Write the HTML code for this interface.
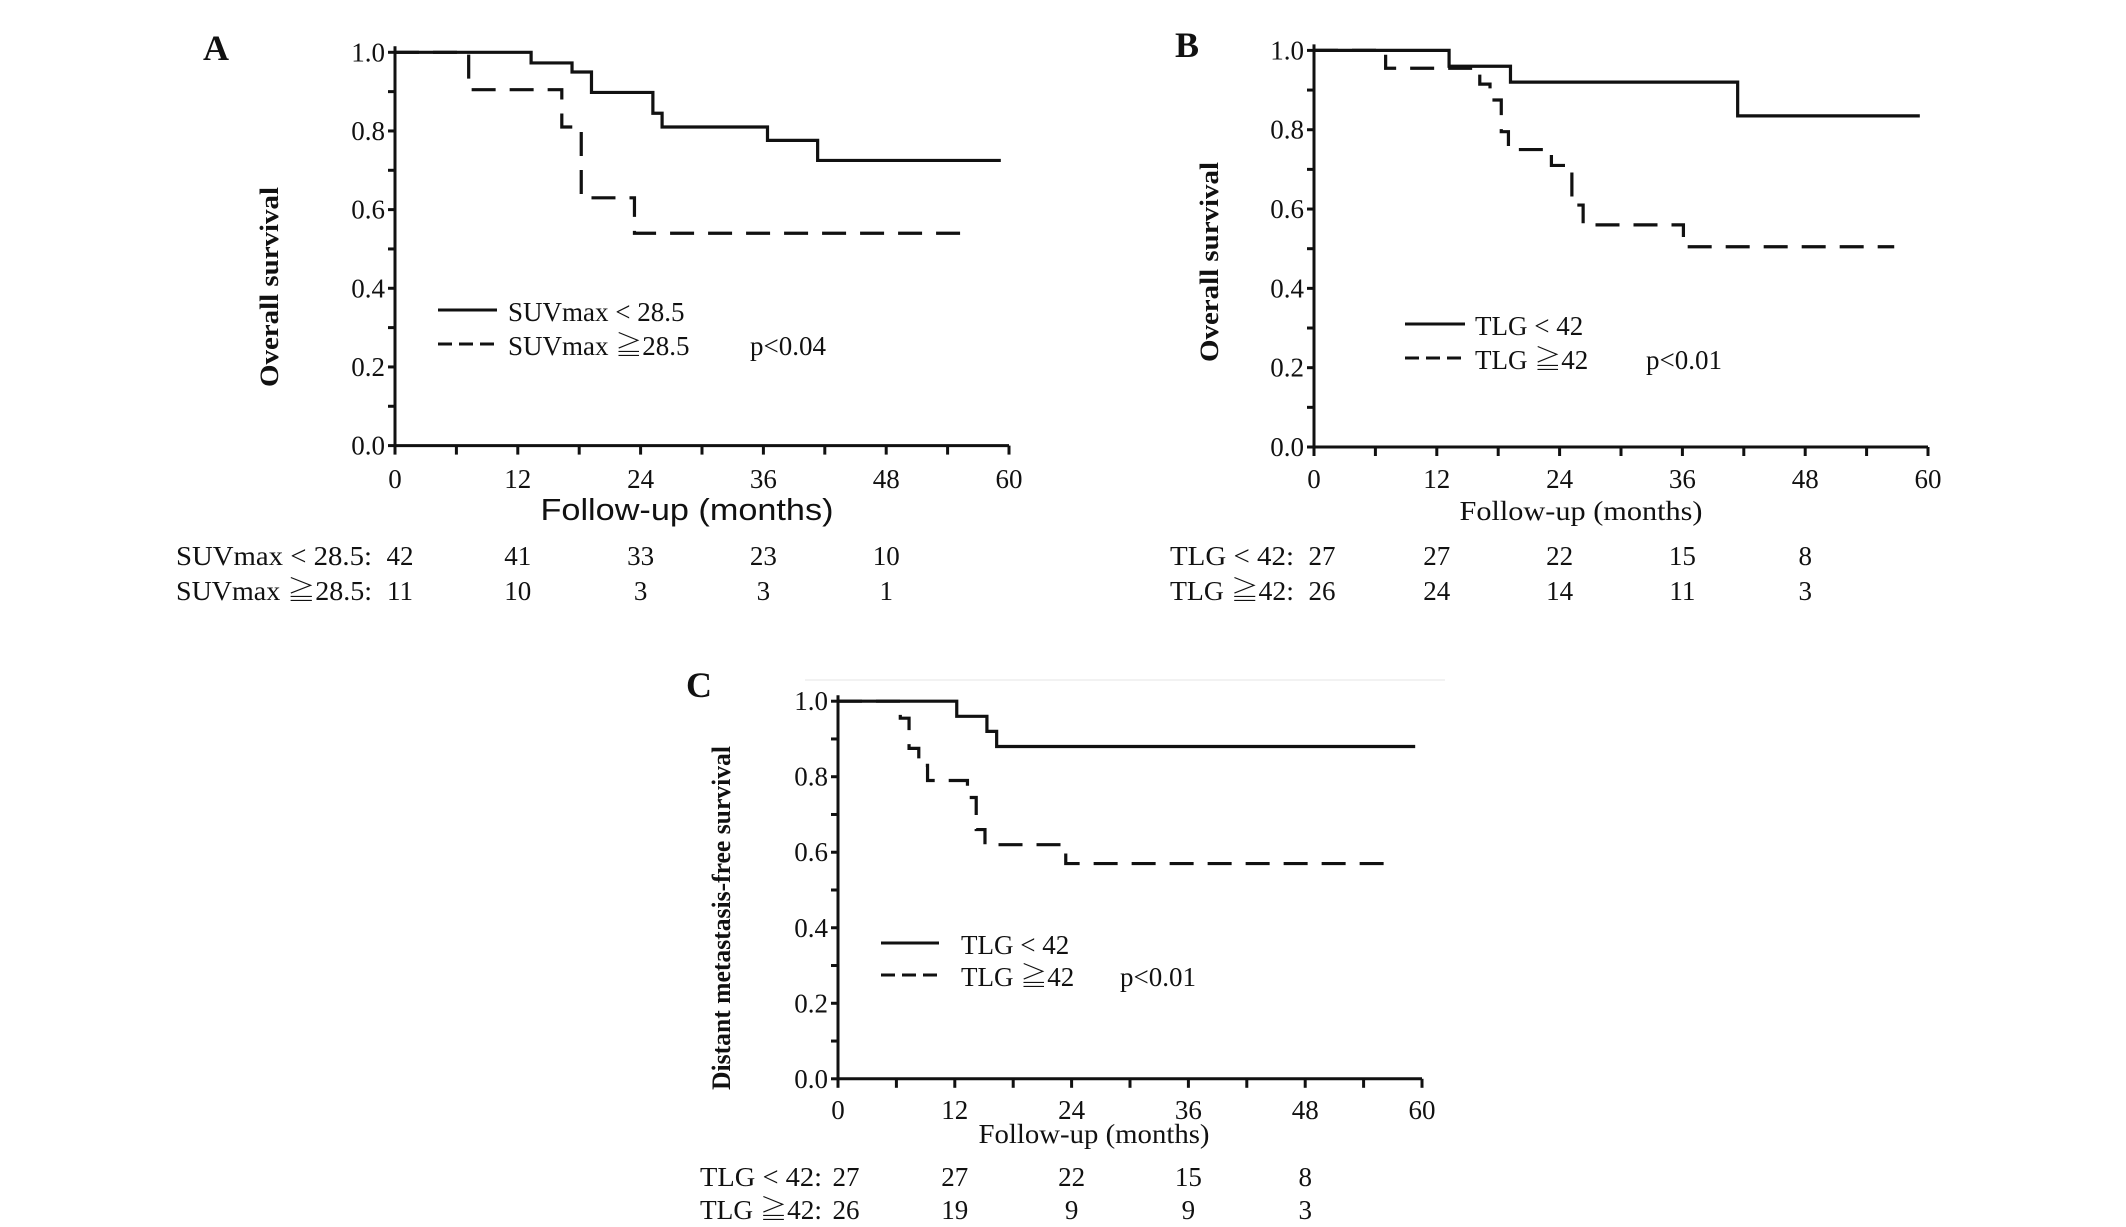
<!DOCTYPE html>
<html><head><meta charset="utf-8"><style>
html,body{margin:0;padding:0;background:#fff;}
svg{display:block;}
text{font-family:"Liberation Serif","Noto Serif CJK SC",serif;fill:#111;}
</style></head><body>
<svg id="fig" width="2126" height="1227" viewBox="0 0 2126 1227" xmlns="http://www.w3.org/2000/svg">
<rect width="2126" height="1227" fill="#fff"/>
<line x1="805" y1="680" x2="1445" y2="680" stroke="#f2f2f2" stroke-width="2"/>
</svg>
<script>
// ---- Data (months, survival) ----
const xTicks = [0, 12, 24, 36, 48, 60];
const yTicks = [0.0, 0.2, 0.4, 0.6, 0.8, 1.0];
const yTickLabels = ["0.0", "0.2", "0.4", "0.6", "0.8", "1.0"];
const riskTimes = [0, 12, 24, 36, 48];

// Panel A
const aSolidT = [0, 13.3, 17.3, 19.2, 25.2, 26.1, 36.4, 41.3, 59.2];
const aSolidS = [1.0, 0.973, 0.95, 0.898, 0.845, 0.81, 0.776, 0.725, 0.725];
const aDashT = [0, 7.2, 16.3, 18.2, 23.4, 56.3];
const aDashS = [1.0, 0.905, 0.81, 0.63, 0.54, 0.54];
const aRisk1 = [42, 41, 33, 23, 10];
const aRisk2 = [11, 10, 3, 3, 1];

// Panel B
const bSolidT = [0, 13.2, 19.2, 41.4, 59.2];
const bSolidS = [1.0, 0.96, 0.92, 0.835, 0.835];
const bDashT = [0, 7.0, 16.2, 17.2, 18.3, 19.0, 23.2, 25.2, 26.3, 36.1, 56.7];
const bDashS = [1.0, 0.955, 0.915, 0.875, 0.795, 0.75, 0.71, 0.61, 0.56, 0.505, 0.505];
const bRisk1 = [27, 27, 22, 15, 8];
const bRisk2 = [26, 24, 14, 11, 3];

// Panel C
const cSolidT = [0, 12.2, 15.3, 16.3, 59.3];
const cSolidS = [1.0, 0.96, 0.92, 0.88, 0.88];
const cDashT = [0, 6.4, 7.3, 8.3, 9.2, 13.3, 14.2, 15.1, 23.4, 56.8];
const cDashS = [1.0, 0.955, 0.875, 0.83, 0.79, 0.745, 0.66, 0.62, 0.57, 0.57];
const cRisk1 = [27, 27, 22, 15, 8];
const cRisk2 = [26, 19, 9, 9, 3];

const NS = "http://www.w3.org/2000/svg";
const svg = document.getElementById('fig');
function mk(tag, attrs, parent, txt) {
  const e = document.createElementNS(NS, tag);
  for (const k in attrs) e.setAttribute(k, attrs[k]);
  if (txt !== undefined) e.textContent = txt;
  (parent || svg).appendChild(e);
  return e;
}

function panel(cfg) {
  const g = mk('g', {});
  
  
  const sx = t => cfg.x0 + (t / 60) * (cfg.x1 - cfg.x0);
  const sy = v => cfg.yb + (cfg.yt - cfg.yb) * v;

  const ax = mk('path', {d: `M${cfg.x0},${sy(1.0)-6} L${cfg.x0},${cfg.yb} L${cfg.x1},${cfg.yb}`, fill: 'none', stroke: '#111', 'stroke-width': 3}, g);
  
  
  for (let m = 0; m <= 60; m += 6) {
    const t = mk('line', {x1: sx(m), x2: sx(m), y1: cfg.yb, y2: cfg.yb + 9, stroke: '#111', 'stroke-width': 3}, g);
    
    
  }
  for (let k = 0; k <= 10; k++) {
    const t = mk('line', {x1: cfg.x0 - 7, x2: cfg.x0, y1: sy(k / 10), y2: sy(k / 10), stroke: '#111', 'stroke-width': 3}, g);
    
    
  }
  xTicks.forEach(v => {
    const t = mk('text', {x: sx(v), y: cfg.xlabY, 'text-anchor': 'middle', 'font-size': 27}, g, String(v));
    
    
  });
  yTicks.forEach((v, i) => {
    const t = mk('text', {x: cfg.x0 - 10, y: sy(v) + 9, 'text-anchor': 'end', 'font-size': 27}, g, yTickLabels[i]);
    
    
  });

  function step(T, S, dash, name) {
    let d = `M${sx(T[0])},${sy(S[0])}`;
    for (let i = 1; i < T.length; i++) {
      d += ` L${sx(T[i])},${sy(S[i - 1])} L${sx(T[i])},${sy(S[i])}`;
    }
    const p = mk('path', {d: d, fill: 'none', stroke: '#111', 'stroke-width': 3.2}, g);
    if (dash) p.setAttribute('stroke-dasharray', '24,14');
    
    
  }
  step(cfg.solidT, cfg.solidS, false, 'curve-low-' + cfg.id);
  step(cfg.dashT, cfg.dashS, true, 'curve-high-' + cfg.id);

  const L = mk('text', {x: cfg.letterX, y: cfg.letterY, 'font-size': 36, 'font-weight': 'bold'}, g, cfg.id);
  
  

  const yt = mk('text', {x: 0, y: 0, 'text-anchor': 'middle', 'font-size': 26, 'font-weight': 'bold', transform: `translate(${cfg.ytX},${cfg.ytY}) rotate(-90)`, 'textLength': cfg.ytLen, lengthAdjust: 'spacingAndGlyphs', 'xml:space': 'preserve'}, g, cfg.ytText);
  
  

  const xt = mk('text', {x: cfg.xtX, y: cfg.xtY, 'text-anchor': 'middle', 'font-size': cfg.xtSans ? 31 : 27, 'textLength': cfg.xtLen, lengthAdjust: 'spacingAndGlyphs', 'xml:space': 'preserve'}, g, 'Follow-up  (months)');
  if (cfg.xtSans) xt.setAttribute('style', 'font-family:"Liberation Sans",sans-serif');
  
  

  const l1 = mk('line', {x1: cfg.legX0, x2: cfg.legX1, y1: cfg.leg1Y, y2: cfg.leg1Y, stroke: '#111', 'stroke-width': 3}, g);
  
  
  const l2 = mk('line', {x1: cfg.legX0, x2: cfg.legX1, y1: cfg.leg2Y, y2: cfg.leg2Y, stroke: '#111', 'stroke-width': 3, 'stroke-dasharray': '14,7'}, g);
  
  
  const t1 = mk('text', {x: cfg.legTX, y: cfg.leg1Y + 11, 'font-size': 27}, g, cfg.leg1);
  
  
  const t2 = mk('text', {x: cfg.legTX, y: cfg.leg2Y + 11, 'font-size': 27}, g, cfg.leg2);
  
  
  const pv = mk('text', {x: cfg.pX, y: cfg.leg2Y + 11, 'font-size': 27}, g, cfg.pText);
  
  

  const r1 = mk('text', {x: cfg.rLabX, y: cfg.r1Y, 'font-size': 27, textLength: cfg.rLabLen, lengthAdjust: 'spacingAndGlyphs'}, g, cfg.rLab1);
  
  
  const r2 = mk('text', {x: cfg.rLabX, y: cfg.r2Y, 'font-size': 27, textLength: cfg.rLabLen, lengthAdjust: 'spacingAndGlyphs'}, g, cfg.rLab2);
  
  
  riskTimes.forEach((m, i) => {
    const cx = sx(m) + (i === 0 ? cfg.firstOff : 0);
    const a = mk('text', {x: cx, y: cfg.r1Y, 'font-size': 27, 'text-anchor': 'middle'}, g, String(cfg.risk1[i]));
    
    
    const b = mk('text', {x: cx, y: cfg.r2Y, 'font-size': 27, 'text-anchor': 'middle'}, g, String(cfg.risk2[i]));
    
    
  });
}

panel({id: 'A', x0: 395, x1: 1009, yt: 52.3, yb: 445.6, xlabY: 488,
  solidT: aSolidT, solidS: aSolidS, dashT: aDashT, dashS: aDashS,
  letterX: 203, letterY: 60, ytX: 278, ytY: 287, ytLen: 200, ytText: 'Overall   survival',
  xtX: 687, xtY: 520, xtLen: 293, xtSans: true,
  legX0: 438, legX1: 497, leg1Y: 310, leg2Y: 344, legTX: 508, leg1: 'SUVmax < 28.5', leg2: 'SUVmax ≧28.5', pX: 750, pText: 'p<0.04',
  rLabX: 176, rLabLen: 196, r1Y: 565, r2Y: 600, rLab1: 'SUVmax < 28.5:', rLab2: 'SUVmax ≧28.5:',
  risk1: aRisk1, risk2: aRisk2, firstOff: 5});

panel({id: 'B', x0: 1314, x1: 1928, yt: 50.4, yb: 447, xlabY: 488,
  solidT: bSolidT, solidS: bSolidS, dashT: bDashT, dashS: bDashS,
  letterX: 1175, letterY: 57, ytX: 1218, ytY: 262, ytLen: 200, ytText: 'Overall   survival',
  xtX: 1581, xtY: 520, xtLen: 243, xtSans: false,
  legX0: 1405, legX1: 1465, leg1Y: 324, leg2Y: 358, legTX: 1475, leg1: 'TLG < 42', leg2: 'TLG ≧42', pX: 1646, pText: 'p<0.01',
  rLabX: 1170, rLabLen: 124, r1Y: 565, r2Y: 600, rLab1: 'TLG < 42:', rLab2: 'TLG ≧42:',
  risk1: bRisk1, risk2: bRisk2, firstOff: 8});

panel({id: 'C', x0: 838, x1: 1422, yt: 701.2, yb: 1078.8, xlabY: 1119,
  solidT: cSolidT, solidS: cSolidS, dashT: cDashT, dashS: cDashS,
  letterX: 686, letterY: 697, ytX: 730, ytY: 918, ytLen: 344, ytText: 'Distant metastasis-free survival',
  xtX: 1094, xtY: 1143, xtLen: 231, xtSans: false,
  legX0: 881, legX1: 939, leg1Y: 943, leg2Y: 975, legTX: 961, leg1: 'TLG < 42', leg2: 'TLG ≧42', pX: 1120, pText: 'p<0.01',
  rLabX: 700, rLabLen: 122, r1Y: 1186, r2Y: 1219, rLab1: 'TLG < 42:', rLab2: 'TLG ≧42:',
  risk1: cRisk1, risk2: cRisk2, firstOff: 8});
</script>
</body></html>
